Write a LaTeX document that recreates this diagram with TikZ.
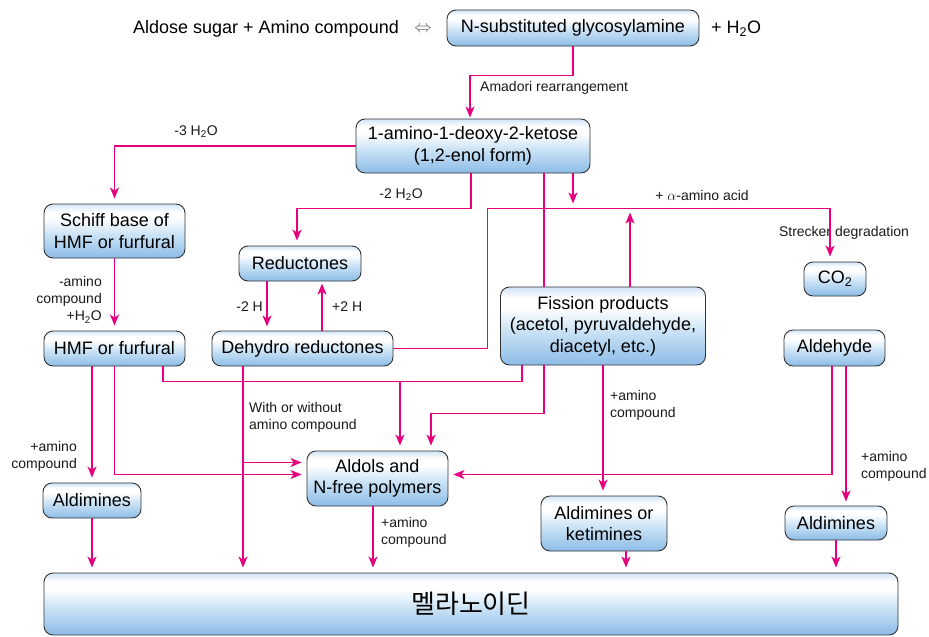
\documentclass[tikz,border=0pt]{standalone}
\usepackage{fontspec}
\setmainfont{Liberation Sans}
\newfontfamily\krfont{Noto Sans CJK KR}
\usetikzlibrary{arrows.meta,calc}
\definecolor{lnk}{RGB}{230,0,126}
\definecolor{shb}{RGB}{140,188,230}
\definecolor{shm}{RGB}{200,225,245}
\definecolor{sht}{RGB}{208,228,246}
\pgfdeclareverticalshading{boxshade}{100bp}{color(0bp)=(shb); color(25bp)=(shb); color(46bp)=(shm); color(62bp)=(white); color(68bp)=(white); color(75bp)=(sht); color(100bp)=(sht)}
\begin{document}
\begin{tikzpicture}[x=1pt,y=-1pt,
  box/.style={draw=black!80, line width=0.9pt, rounded corners=9pt, shading=boxshade,
    inner sep=0pt, align=center, font=\fontsize{18}{21.5}\selectfont, text=black},
  lbl/.style={font=\fontsize{14}{17}\selectfont, inner sep=0pt, text=black!90},
  big/.style={font=\fontsize{18}{21.5}\selectfont, inner sep=0pt},
  ln/.style={draw=lnk, line width=1.4pt},
  arr/.style={ln, -{Stealth[length=11pt,width=9pt,inset=3pt]}},
  arrb/.style={arr, shorten >=5pt}]
\useasboundingbox (0,0) rectangle (929,637);

% top row
\node[big] (react) at (266,29) {Aldose sugar + Amino compound};
\node[big, text=black!60] (eq) at (423,29) {$\Leftrightarrow$};
\node[box, minimum width=252pt, minimum height=36pt] (nsub) at (573,28) {N-substituted glycosylamine};
\node[big, anchor=west] (water) at (711,29) {+ H\textsubscript{2}O};

% boxes
\node[box, minimum width=234pt, minimum height=54pt] (amino) at (473,146) {1-amino-1-deoxy-2-ketose\\(1,2-enol form)};
\node[box, minimum width=141pt, minimum height=54pt] (schiff) at (114.5,231) {Schiff base of\\HMF or furfural};
\node[box, minimum width=122pt, minimum height=35pt] (reduc) at (300,263.5) {Reductones};
\node[box, minimum width=141pt, minimum height=35pt] (hmf) at (114.5,348.5) {HMF or furfural};
\node[box, minimum width=181pt, minimum height=35pt] (dehydro) at (302.5,348.5) {Dehydro reductones};
\node[box, minimum width=205pt, minimum height=78pt] (fission) at (603,326) {Fission products\\(acetol, pyruvaldehyde,\\diacetyl, etc.)};
\node[box, minimum width=62pt, minimum height=34pt] (co2) at (835,279) {CO\textsubscript{2}};
\node[box, minimum width=101pt, minimum height=36pt] (aldehyde) at (834.5,348) {Aldehyde};
\node[box, minimum width=98pt, minimum height=35pt] (aldL) at (92,500.5) {Aldimines};
\node[box, minimum width=141pt, minimum height=55pt] (aldols) at (377.5,478.5) {Aldols and\\N-free polymers};
\node[box, minimum width=126pt, minimum height=55pt] (aldket) at (604,523.5) {Aldimines or\\ketimines};
\node[box, minimum width=102pt, minimum height=34pt] (aldR) at (836,523) {Aldimines};
\node[box, minimum width=854pt, minimum height=62pt, font=\krfont\fontsize{26}{30}\selectfont] (mel) at (471,604) {멜라노이딘};

% labels
\node[lbl, anchor=west] (lamadori) at (480,88) {Amadori rearrangement};
\node[lbl] (l3h) at (196,132) {-3 H\textsubscript{2}O};
\node[lbl] (l2h) at (401,195) {-2 H\textsubscript{2}O};
\node[lbl] (lalpha) at (702,195) {+ $\alpha$-amino acid};
\node[lbl] (lstrecker) at (844,233) {Strecker degradation};
\node[lbl, anchor=east, align=right] (lschiff) at (102,300) {-amino\\compound\\+H\textsubscript{2}O};
\node[lbl, anchor=east] (lm2h) at (263,307) {-2 H};
\node[lbl, anchor=west] (lp2h) at (332,307) {+2 H};
\node[lbl, anchor=west, align=left] (lwith) at (249,417) {With or without\\amino compound};
\node[lbl, anchor=east, align=right] (lamL) at (77,456) {+amino\\compound};
\node[lbl, anchor=west, align=left] (lamA) at (381,532) {+amino\\compound};
\node[lbl, anchor=west, align=left] (lamF) at (610,405) {+amino\\compound};
\node[lbl, anchor=west, align=left] (lamR) at (861,466) {+amino\\compound};

% connectors
\draw[arr, shorten >=1pt] (nsub.south) -- ++(0,29) -| ([xshift=-3pt]amino.north);
\draw[arrb] (amino.west) -| (schiff.north);
\draw[arrb] ([xshift=-2pt]amino.south) -- ++(0,35) -| ([xshift=-3pt]reduc.north);
\draw[ln] ([xshift=71pt]amino.south) -- ([xshift=-59pt]fission.north);
\draw[arr] ([xshift=100pt]amino.south) -- ++(0,30);
\draw[arrb] (dehydro.east) -| ($(dehydro.east)+(94,-140)$) -| ([xshift=-5pt]co2.north);
\draw[arr] ([xshift=27pt]fission.north) -- ++(0,-74);
\draw[arrb] (schiff) -- (hmf);
\draw[arrb] ([xshift=-33pt]reduc.south) -- ++(0,50);
\draw[arr] ([xshift=19.5pt]dehydro.north) -- ++(0,-47);

\draw[arrb] (hmf.south -| aldL.north) -- (aldL.north);
\draw[arrb] (hmf.south) |- ([yshift=4pt]aldols.west);
\draw[ln] ([xshift=48.5pt]hmf.south) -- ++(0,15) -| ([xshift=-81pt]fission.south);
\coordinate (j1) at (400,381);
\draw[arrb] (j1) -- (j1 |- aldols.north);
\draw[arrb] ([xshift=-59pt]fission.south) -- ++(0,48) -| ([xshift=53.5pt]aldols.north);
\draw[arrb] (fission.south) -- (fission.south |- aldket.north);
\coordinate (k1) at ([xshift=22pt]aldket.south);
\draw[arrb] (k1) -- (k1 |- mel.north);
\draw[arrb] ([xshift=-2.5pt]aldehyde.south) |- ([yshift=4pt]aldols.east);
\draw[arrb] ([xshift=11.5pt]aldehyde.south) -- ++(0,140);
\draw[arrb] (aldR.south) -- (aldR.south |- mel.north);
\draw[arrb] (aldL.south) -- (aldL.south |- mel.north);
\coordinate (d1) at ([xshift=-59.5pt]dehydro.south);
\draw[arrb] (d1) -- (d1 |- mel.north);
\coordinate (d2) at ([yshift=-96pt]d1);
\draw[arrb] (d2) -- (d2 -| aldols.west);
\coordinate (a2) at ([xshift=-4.5pt]aldols.south);
\draw[arrb] (a2) -- (a2 |- mel.north);
\end{tikzpicture}
\end{document}
